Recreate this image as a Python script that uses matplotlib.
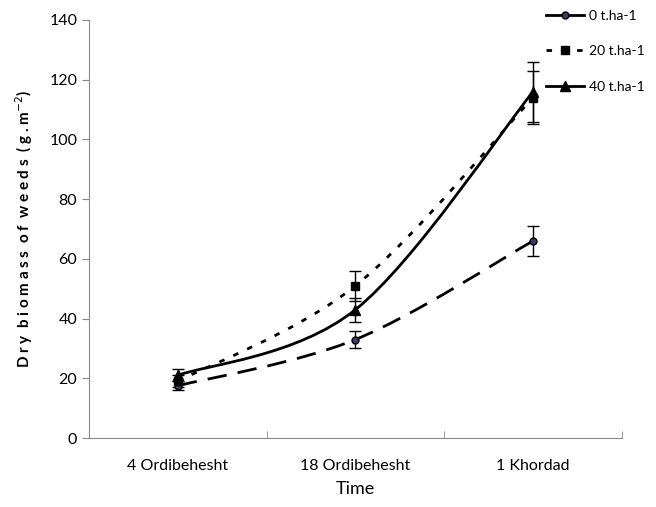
import numpy as np
import matplotlib
matplotlib.use("Agg")
import matplotlib.pyplot as plt
from matplotlib.path import Path
from matplotlib.patches import PathPatch
from matplotlib.lines import Line2D

plt.rcParams['font.family'] = ['Lato', 'DejaVu Sans']

times = ["4 Ordibehesht", "18 Ordibehesht", "1 Khordad"]
labels = ["0 t.ha-1", "20 t.ha-1", "40 t.ha-1"]
biomass_0 = [17.5, 33, 66]
biomass_20 = [19, 51, 114]
biomass_40 = [21, 43, 116]
err_0 = [1.5, 3, 5]
err_20 = [2, 5, 9]
err_40 = [2, 4, 10]

styles = [
    dict(ls=(0, (7, 4)), marker="o", mfc="#3a3a6a", ms=5),
    dict(ls=(0, (2, 3.5)), marker="s", mfc="black", ms=6),
    dict(ls="-", marker="^", mfc="black", ms=7),
]


def smooth_path(x, y):
    # cubic bezier through the points, like a spreadsheet "smoothed line"
    pts = np.column_stack([x, y]).astype(float)
    ext = np.vstack([pts[0], pts, pts[-1]])
    verts = [pts[0]]
    codes = [Path.MOVETO]
    for i in range(len(pts) - 1):
        p0, p1, p2, p3 = ext[i], ext[i + 1], ext[i + 2], ext[i + 3]
        c1 = p1 + (p2 - p0) / 6
        c2 = p2 - (p3 - p1) / 6
        verts += [c1, c2, p2]
        codes += [Path.CURVE4] * 3
    return Path(verts, codes)


fig = plt.figure(figsize=(6.56, 5.07), dpi=100)
ax = fig.add_axes([0.1357, 0.136, 0.8123, 0.8246])

x = np.arange(len(times))
series = [biomass_0, biomass_20, biomass_40]
errors = [err_0, err_20, err_40]
for vals, errs, st in zip(series, errors, styles):
    patch = PathPatch(smooth_path(x, vals), fill=False, lw=2,
                      ls=st["ls"], ec="black", zorder=3)
    ax.add_patch(patch)
    ax.errorbar(x, vals, yerr=errs, fmt="none", ecolor="black",
                elinewidth=1, capsize=4, capthick=1, zorder=2)
    ax.plot(x, vals, ls="none", marker=st["marker"], ms=st["ms"],
            mfc=st["mfc"], mec="black", zorder=4)

ax.set_xlim(-0.5, 2.5)
ax.set_ylim(0, 140)
ax.set_yticks(range(0, 141, 20))
ax.set_xticks(x)
ax.set_xticklabels(times)
ax.set_xticks([-0.5, 0.5, 1.5, 2.5], minor=True)
ax.tick_params(axis="x", which="major", length=0, labelsize=11.5, pad=15)
ax.tick_params(axis="x", which="minor", length=5, color="#888888", direction="in")
ax.tick_params(axis="y", direction="out", length=5, color="#888888", labelsize=11.5)
for side in ["top", "right"]:
    ax.spines[side].set_visible(False)
for side in ["left", "bottom"]:
    ax.spines[side].set_color("#888888")

ax.set_xlabel("Time", fontsize=13, labelpad=6)
ax.set_ylabel("D r y  b i o m a s s  o f  w e e d s  ( g . m$^{-2}$)",
              fontsize=11, fontweight="bold", labelpad=10)

handles = [
    Line2D([], [], color="black", lw=2, ls="-", marker="o", ms=5, mfc="#3a3a6a", mec="black"),
    Line2D([], [], color="black", lw=2, ls=(0, (2, 3.5)), marker="s", ms=6, mfc="black", mec="black"),
    Line2D([], [], color="black", lw=2, ls="-", marker="^", ms=7, mfc="black", mec="black"),
]
fig.legend(handles, labels, loc="upper right", bbox_to_anchor=(0.997, 1.0),
           frameon=False, fontsize=10, handlelength=2.8, handletextpad=0.3,
           labelspacing=1.7, borderaxespad=0.3)

fig.savefig("out.png", dpi=100)
